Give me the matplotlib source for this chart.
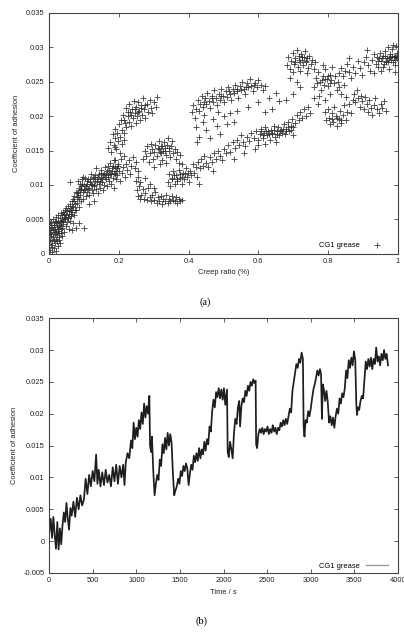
import numpy as np
import matplotlib
matplotlib.use("Agg")
import matplotlib.pyplot as plt
from matplotlib.lines import Line2D

plt.rcParams['font.family'] = ['Liberation Sans', 'DejaVu Sans']

# ---------------- (a) scatter: creep ratio vs coefficient of adhesion (coef in 1e-3 units) -------------
origin_cr = [0.002,0.003,0.004,0.005,0.006,0.007,0.008,0.009,0.010,0.011,
             0.012,0.013,0.014,0.015,0.016,0.017,0.018,0.019,0.020,0.021,
             0.022,0.023,0.024,0.025,0.026,0.027,0.028,0.029,0.030,0.031,
             0.032,0.033,0.034,0.035,0.036,0.037,0.038,0.040,0.041,0.042,
             0.044,0.045,0.046,0.048,0.049,0.050,0.052,0.053,0.054,0.056,
             0.057,0.058,0.060,0.061,0.062,0.064,0.065,0.066,0.068,0.069,
             0.070,0.072,0.073,0.074,0.076,0.077,0.078,0.080,0.081,0.082,
             0.084,0.085,0.086,0.088,0.089,0.090,0.092,0.093,0.094,0.096,
             0.097,0.098,0.100,0.101,0.085,0.065]
origin_coef = [0.5,2.0,3.5,1.2,4.6,2.8,0.3,3.9,1.8,5.0,
               2.4,4.2,0.8,3.1,4.8,1.5,3.6,2.2,5.3,0.4,
               3.9,2.7,4.4,1.1,3.3,5.6,2.0,4.0,3.0,5.2,
               1.6,4.6,3.6,5.9,2.6,4.9,3.8,6.0,4.3,5.4,
               3.2,6.3,5.0,4.1,6.6,5.6,4.6,7.0,5.2,6.2,
               3.6,5.8,7.2,4.8,6.4,5.5,7.6,6.0,4.4,8.0,
               6.8,5.6,8.4,7.2,3.8,9.0,6.4,8.8,7.4,10.6,
               8.2,9.6,6.8,9.2,10.2,8.6,9.8,7.6,10.8,9.0,
               11.2,8.0,10.0,3.7,4.4,3.4]
origin2_cr = [0.001,0.002,0.003,0.005,0.007,0.009,0.011,0.013,0.015,0.017,
              0.019,0.021,0.023,0.025,0.027,0.029,0.031,0.033,0.035,0.037,
              0.039,0.043,0.047,0.051,0.055,0.059,0.063,0.067,0.071,0.075,
              0.079,0.083,0.087,0.091,0.095,0.099]
origin2_coef = [1.4,3.0,4.4,2.6,3.8,1.0,3.4,2.0,4.2,2.8,
                4.6,3.2,1.8,4.8,3.6,2.4,4.2,3.0,4.6,5.6,
                4.8,5.8,5.2,6.2,5.4,6.6,5.8,7.0,7.6,6.4,
                8.2,9.0,8.0,9.4,10.2,9.2]

lowband_cr = [0.102,0.104,0.106,0.108,0.110,0.112,0.114,0.116,0.118,0.120,
              0.122,0.124,0.126,0.128,0.130,0.132,0.134,0.136,0.138,0.140,
              0.142,0.144,0.146,0.148,0.150,0.152,0.154,0.156,0.158,0.160,
              0.162,0.164,0.166,0.168,0.170,0.172,0.174,0.176,0.178,0.180,
              0.182,0.184,0.186,0.188,0.190,0.192,0.194,0.196,0.198,0.200,
              0.203,0.206,0.209,0.212,0.215,0.218,0.221,0.224,0.228,0.232,
              0.236,0.240,0.245,0.250,0.255,0.130,0.115,0.190,0.215,0.060]
lowband_coef = [9.4,11.0,8.4,10.2,9.0,10.8,9.6,8.6,10.4,11.6,
                9.2,10.0,8.8,11.2,9.8,10.6,12.4,9.4,10.8,8.8,
                11.6,10.2,9.6,11.0,12.2,10.4,9.2,11.4,10.0,12.6,
                10.8,11.8,9.8,11.2,12.8,10.6,11.6,13.2,10.2,12.0,
                11.0,12.8,9.6,11.6,13.6,10.8,12.4,11.4,13.0,12.0,
                10.6,13.8,11.8,12.6,14.2,11.2,13.0,12.2,13.6,11.6,
                12.8,14.0,12.4,13.4,12.0,7.6,7.2,15.5,16.6,10.4]
lowband2_cr = [0.105,0.109,0.113,0.117,0.121,0.125,0.129,0.133,0.137,0.141,
               0.145,0.149,0.153,0.157,0.161,0.165,0.169,0.173,0.177,0.181,
               0.185,0.189,0.193,0.197]
lowband2_coef = [9.8,10.6,9.4,10.8,10.2,11.0,10.0,11.4,10.4,11.2,
                 10.6,11.8,10.8,11.6,11.2,12.0,11.4,12.2,11.6,12.4,
                 11.8,12.6,12.0,12.8]

upper1_cr = [0.170,0.175,0.178,0.182,0.185,0.188,0.190,0.193,0.196,0.198,
             0.200,0.203,0.205,0.208,0.210,0.212,0.215,0.218,0.220,0.222,
             0.225,0.228,0.230,0.232,0.235,0.238,0.240,0.243,0.245,0.248,
             0.250,0.253,0.255,0.258,0.260,0.263,0.266,0.270,0.273,0.276,
             0.280,0.284,0.288,0.292,0.296,0.300,0.306,0.310,0.202,0.186,
             0.226,0.236,0.246,0.256,0.264,0.274,0.214]
upper1_coef = [15.4,16.2,14.8,17.4,15.8,16.8,18.2,15.2,17.6,16.4,
               18.8,17.0,19.4,16.0,18.0,20.2,17.6,19.0,21.2,18.4,
               20.0,21.8,19.2,20.6,18.6,21.0,19.8,22.2,20.4,19.0,
               21.4,20.0,22.0,20.8,19.4,21.6,20.2,22.6,21.0,19.8,
               21.8,20.6,22.4,21.2,20.4,22.0,21.4,22.8,14.6,13.6,
               20.6,20.2,21.0,20.6,21.2,21.6,19.4]

blob_cr = [0.270,0.274,0.278,0.282,0.286,0.290,0.293,0.296,0.299,0.302,
           0.305,0.308,0.311,0.314,0.317,0.320,0.323,0.326,0.329,0.332,
           0.335,0.338,0.341,0.344,0.347,0.350,0.353,0.356,0.360,0.364,
           0.368,0.372,0.376,0.380,0.318,0.300,0.336,0.315,0.325,0.333,
           0.343,0.322]
blob_coef = [13.8,15.0,14.2,15.6,13.4,14.6,16.0,15.2,13.8,14.8,
             15.8,14.2,15.4,16.4,14.8,15.6,13.6,15.0,16.2,15.4,
             14.4,15.8,16.8,15.0,14.0,15.6,16.4,14.6,15.2,13.8,
             14.8,13.2,14.4,13.0,13.0,12.6,13.2,15.2,15.6,15.0,
             15.4,14.6]

loop_cr = [0.250,0.252,0.254,0.256,0.258,0.260,0.262,0.265,0.268,0.272,
           0.276,0.280,0.284,0.288,0.292,0.296,0.300,0.304,0.308,0.312,
           0.316,0.320,0.324,0.328,0.332,0.336,0.340,0.344,0.348,0.352,
           0.356,0.360,0.364,0.368,0.372,0.376,0.380,0.290,0.300,0.275]
loop_coef = [10.6,9.2,11.2,8.4,9.8,8.0,10.4,8.6,9.4,8.0,
             8.8,7.8,9.6,8.2,7.6,8.6,7.8,9.0,7.4,8.2,
             7.6,8.4,7.2,8.0,7.6,8.6,7.4,8.0,7.6,8.4,
             7.8,7.6,8.2,7.4,8.0,7.6,7.8,10.2,9.6,11.0]

midband_cr = [0.340,0.344,0.348,0.352,0.356,0.360,0.364,0.368,0.372,0.376,
              0.380,0.384,0.388,0.392,0.396,0.400,0.404,0.408,0.412,0.416,
              0.420,0.424,0.428,0.432,0.436,0.440,0.445,0.450,0.455,0.460,
              0.466,0.472,0.478,0.484,0.490,0.496,0.502,0.508,0.514,0.520,
              0.526,0.532,0.538,0.544,0.550,0.556,0.562,0.568,0.574,0.580,
              0.586,0.592,0.598,0.604,0.608,0.612,0.616,0.620,0.624,0.628,
              0.632,0.636,0.640,0.644,0.648,0.652,0.656,0.660,0.664,0.668,
              0.672,0.676,0.680,0.684,0.688,0.692,0.696,0.700,0.705,0.710,
              0.715,0.720,0.725,0.730,0.736,0.742,0.748,0.600,0.590,0.620,
              0.530,0.560,0.470,0.430,0.650,0.700]
midband_coef = [10.4,11.6,9.8,11.0,12.0,10.2,11.4,10.6,12.2,11.0,
                10.2,11.8,10.8,12.4,11.2,10.4,12.0,11.4,13.0,11.8,
                12.6,11.2,13.4,12.4,13.8,12.8,14.2,13.2,12.6,14.0,
                13.4,14.6,13.8,15.0,14.2,13.6,15.2,14.6,15.8,14.8,
                16.2,15.4,16.6,15.8,17.2,16.2,15.6,17.0,16.4,17.6,
                16.8,17.8,16.6,17.4,18.2,16.8,17.6,18.4,17.2,17.8,
                16.6,18.0,17.4,18.6,17.0,17.8,18.4,17.2,18.0,17.6,
                18.8,17.4,18.2,19.2,17.8,18.6,19.6,18.4,19.0,20.2,
                19.4,20.6,19.8,21.0,20.0,21.4,20.4,15.8,15.2,16.0,
                13.8,14.6,12.0,10.2,16.2,17.2]
midband2_cr = [0.352,0.358,0.366,0.374,0.382,0.390,0.398,0.606,0.614,0.622,
               0.630,0.638,0.646,0.654,0.662,0.670,0.678,0.686,0.694]
midband2_coef = [10.8,11.4,10.8,11.6,11.2,11.6,11.8,17.8,17.2,17.8,
                 17.4,17.6,18.0,17.4,17.8,18.2,17.8,18.4,18.0]

upper2_cr = [0.410,0.414,0.418,0.422,0.426,0.430,0.434,0.438,0.442,0.446,
             0.450,0.454,0.458,0.462,0.466,0.470,0.474,0.478,0.482,0.486,
             0.490,0.494,0.498,0.502,0.506,0.510,0.514,0.518,0.522,0.526,
             0.530,0.534,0.538,0.542,0.546,0.550,0.554,0.558,0.562,0.566,
             0.570,0.575,0.580,0.585,0.590,0.595,0.600,0.606,0.612,0.618,
             0.420,0.430,0.440,0.450,0.460,0.470,0.480,0.490,0.500,0.510,
             0.520,0.530,0.425,0.445,0.485,0.540,0.570,0.600,0.630,0.640,
             0.650,0.660,0.620,0.444,0.468,0.492,0.516,0.540,0.564,0.588]
upper2_coef = [20.6,21.6,19.8,21.0,22.4,20.8,21.8,23.0,21.4,22.6,
               21.8,23.4,22.2,21.2,23.0,22.0,23.8,22.6,21.6,23.2,
               22.4,24.0,23.0,22.0,23.6,22.8,24.2,23.2,22.4,24.0,
               23.4,24.6,23.6,22.6,24.4,23.8,25.0,24.0,23.2,24.8,
               24.2,25.4,24.4,23.6,24.8,24.2,25.2,24.6,23.8,24.4,
               18.4,17.0,19.2,18.0,16.8,19.6,18.6,17.4,20.0,18.8,
               20.4,19.2,16.2,20.2,20.6,20.8,21.4,22.0,22.6,21.0,
               23.4,22.2,20.6,22.0,22.6,23.0,23.6,24.0,24.2,24.6]

peak1_cr = [0.682,0.686,0.690,0.694,0.698,0.702,0.706,0.710,0.713,0.716,
            0.719,0.722,0.725,0.728,0.731,0.734,0.737,0.740,0.743,0.746,
            0.750,0.754,0.758,0.762,0.700,0.720,0.740,0.690,0.710,0.720,
            0.700,0.680,0.715,0.725,0.735,0.705]
peak1_coef = [27.4,28.6,26.8,28.0,29.2,27.6,28.4,29.6,27.2,28.8,
              27.8,29.0,28.2,27.4,28.6,29.4,27.8,28.4,27.0,28.8,
              27.6,28.2,26.8,27.8,26.4,26.6,26.2,25.6,25.0,24.2,
              23.2,22.4,28.2,28.6,28.0,27.8]

peak2_cr = [0.760,0.764,0.768,0.772,0.776,0.780,0.784,0.788,0.792,0.796,
            0.800,0.804,0.808,0.812,0.816,0.820,0.824,0.828,0.832,0.838,
            0.845,0.852,0.775,0.790,0.805,0.785,0.770,0.760,0.790,0.798,
            0.806,0.782]
peak2_coef = [24.2,25.6,24.8,26.4,25.0,23.8,25.8,24.6,26.8,25.4,
              24.4,26.0,25.2,27.2,24.8,25.8,23.8,25.0,24.2,23.2,
              24.6,22.8,23.0,22.4,23.2,27.4,21.8,22.6,25.4,25.8,
              24.8,25.2]

dip1_cr = [0.790,0.794,0.798,0.802,0.806,0.810,0.814,0.818,0.822,0.826,
           0.830,0.834,0.838,0.842,0.846,0.850,0.855,0.860,0.865,0.870,
           0.812,0.824,0.836]
dip1_coef = [20.6,19.4,21.0,19.8,18.8,20.4,19.2,21.4,20.0,18.6,
             19.6,20.8,19.0,20.2,21.6,19.4,20.6,21.8,20.4,22.4,
             19.6,19.8,19.4]

dip2_cr = [0.874,0.878,0.882,0.886,0.890,0.894,0.898,0.902,0.906,0.910,
           0.914,0.918,0.922,0.926,0.930,0.935,0.940,0.945,0.950,0.955,
           0.960,0.965]
dip2_coef = [23.2,22.0,23.8,22.6,21.4,23.0,22.2,21.0,22.8,21.8,
             20.6,22.4,21.2,20.2,21.6,22.6,21.0,20.4,21.8,21.2,
             22.2,20.8]

top_cr = [0.830,0.836,0.842,0.848,0.854,0.860,0.866,0.872,0.878,0.884,
          0.890,0.896,0.902,0.908,0.914,0.920,0.926,0.932,0.936,0.940,
          0.944,0.948,0.952,0.956,0.960,0.964,0.968,0.972,0.976,0.980,
          0.984,0.988,0.992,0.996,0.998,0.970,0.985,0.950,0.975,0.990,
          0.910,0.860,0.930,0.995,0.965,0.958,0.978,0.992,0.942,0.954,
          0.962,0.974,0.982,0.990,0.994,0.966,0.986,0.946]
top_coef = [26.2,27.0,25.8,26.6,27.6,26.4,25.6,27.2,26.2,28.0,
            27.0,26.0,27.8,28.6,27.4,26.6,28.2,29.0,27.6,28.6,
            27.2,29.2,28.0,28.8,27.6,29.4,28.4,27.8,29.0,28.2,
            29.8,28.6,27.4,29.2,28.4,30.0,30.4,26.6,26.8,26.4,
            29.6,28.4,26.2,30.2,28.0,27.2,28.6,28.8,28.0,28.4,
            28.8,28.4,28.8,28.2,28.6,27.8,27.8,28.4]

# ---------------- (b) time series (coef in 1e-3 units) -------------
time_s = [0,20,35,50,65,80,95,110,125,140,155,170,185,200,215,230,245,260,280,300,
          320,340,360,380,400,420,440,460,480,500,520,540,555,570,590,610,630,650,670,690,
          710,730,750,770,790,810,830,850,865,880,900,920,940,955,970,985,1000,1015,1030,1045,
          1060,1075,1090,1105,1120,1135,1150,1158,1170,1180,1195,1210,1225,1240,1255,1270,1285,1300,1315,1330,
          1345,1360,1375,1390,1405,1420,1435,1450,1465,1480,1495,1510,1525,1540,1555,1570,1585,1600,1615,1630,
          1645,1660,1675,1690,1705,1720,1735,1750,1765,1780,1795,1810,1825,1840,1855,1870,1885,1900,1915,1930,
          1945,1960,1975,1990,2005,2020,2040,2048,2060,2075,2090,2105,2120,2135,2150,2165,2180,2190,2205,2220,
          2235,2250,2265,2280,2295,2310,2325,2340,2355,2368,2374,2385,2400,2415,2430,2445,2460,2475,2490,2505,
          2520,2535,2550,2565,2580,2595,2610,2625,2640,2655,2670,2685,2700,2715,2730,2745,2760,2775,2790,2805,
          2820,2835,2850,2865,2880,2895,2910,2918,2928,2940,2955,2970,2985,3000,3015,3030,3045,3060,3075,3090,
          3105,3118,3128,3138,3150,3165,3180,3195,3210,3225,3240,3255,3270,3285,3300,3315,3330,3345,3360,3375,
          3390,3405,3420,3435,3450,3465,3480,3495,3510,3522,3530,3540,3555,3570,3585,3600,3615,3630,3645,3660,
          3675,3690,3705,3720,3735,3750,3765,3780,3795,3810,3825,3840,3855,3870,3885]
adhesion_b = [1.0,3.5,0.5,3.8,1.0,-1.2,3.0,-1.3,2.0,-0.5,2.5,4.5,3.0,6.0,3.5,1.8,5.2,4.0,6.2,3.8,
              6.8,5.0,7.2,5.6,6.5,9.8,7.4,10.4,8.6,11.0,9.4,13.6,9.0,11.2,8.6,10.8,8.8,11.2,9.2,10.4,
              8.6,11.6,9.4,12.0,9.0,11.8,10.0,12.0,8.8,12.4,13.8,13.0,15.8,14.6,18.6,16.0,17.8,16.4,19.0,17.6,
              20.2,18.4,21.6,19.4,21.2,20.0,22.8,15.0,14.0,16.4,11.0,7.2,9.0,10.4,9.6,12.8,11.8,15.2,13.8,16.2,
              14.4,17.0,15.0,16.8,15.4,10.6,7.2,8.0,8.6,9.8,9.0,11.0,10.2,11.8,11.0,12.2,11.4,8.8,10.6,12.0,
              11.2,13.4,12.4,13.8,12.6,14.6,13.0,14.4,13.6,15.6,14.2,16.0,15.2,18.0,17.2,20.4,22.2,21.0,23.4,22.6,
              24.0,22.4,23.8,22.2,24.0,21.4,23.8,14.0,13.2,15.6,14.4,13.0,17.0,19.2,18.4,21.0,22.0,18.0,21.2,22.4,
              21.8,23.6,22.8,24.4,23.6,25.0,24.4,25.4,24.8,25.2,15.2,14.6,16.8,17.6,17.0,17.8,16.8,17.6,17.2,18.0,
              16.8,17.6,17.0,18.2,17.2,17.8,16.8,17.8,17.4,18.6,18.0,19.0,18.2,19.2,18.4,19.6,20.8,20.2,23.6,25.0,
              26.4,27.8,27.2,28.6,28.0,29.6,28.6,18.0,16.4,19.0,18.6,20.4,19.6,20.8,22.4,23.8,24.6,25.6,26.8,26.0,
              27.0,26.2,19.2,24.6,23.8,22.0,23.6,21.8,18.6,19.6,18.2,19.4,17.8,19.6,20.8,20.0,22.4,21.6,23.2,22.6,
              24.0,26.8,25.6,28.4,27.2,28.8,27.6,29.8,28.4,21.6,19.8,21.0,20.6,22.0,22.8,22.4,25.2,28.2,27.0,28.6,
              27.4,28.8,27.0,28.6,27.8,30.4,28.2,29.0,27.6,29.4,28.4,30.0,28.6,29.4,27.6]

scatter_groups = [
    (origin_cr, origin_coef), (origin2_cr, origin2_coef),
    (lowband_cr, lowband_coef), (lowband2_cr, lowband2_coef),
    (upper1_cr, upper1_coef), (blob_cr, blob_coef), (loop_cr, loop_coef),
    (midband_cr, midband_coef), (midband2_cr, midband2_coef),
    (upper2_cr, upper2_coef), (peak1_cr, peak1_coef), (peak2_cr, peak2_coef),
    (dip1_cr, dip1_coef), (dip2_cr, dip2_coef), (top_cr, top_coef),
]
cr_all = np.concatenate([np.asarray(g[0], float) for g in scatter_groups])
coef_all = np.concatenate([np.asarray(g[1], float) for g in scatter_groups]) / 1000.0

t_arr = np.asarray(time_s, float)
b_arr = np.asarray(adhesion_b, float) / 1000.0

fig = plt.figure(figsize=(4.04, 6.36), dpi=100)
FS = 5.4
SPINE = '#444444'

def style(ax):
    for s in ax.spines.values():
        s.set_color(SPINE)
        s.set_linewidth(0.8)
    ax.tick_params(direction='in', top=True, right=True, length=2.6, width=0.6,
                   color=SPINE, labelsize=FS, pad=3.2, labelcolor='#222222')

# (a)
ax1 = fig.add_axes([0.1213, 0.6011, 0.8639, 0.3785])
ax1.plot(cr_all, coef_all, linestyle='none', marker='+', markersize=4.0,
         markeredgewidth=0.6, color='#2a2a2a', alpha=0.9, label='CG1 grease')
ax1.set_xlim(0, 1)
ax1.set_ylim(0, 0.035)
ax1.set_xticks([0, 0.2, 0.4, 0.6, 0.8, 1])
ax1.set_xticklabels(['0', '0.2', '0.4', '0.6', '0.8', '1'])
ax1.set_yticks([0, 0.005, 0.01, 0.015, 0.02, 0.025, 0.03, 0.035])
ax1.set_yticklabels(['0', '0.005', '0.01', '0.015', '0.02', '0.025', '0.03', '0.035'])
style(ax1)
ax1.set_xlabel('Creep ratio (%)', fontsize=FS, labelpad=3, color='#222222')
ax1.set_ylabel('Coefficient of adhesion', fontsize=FS, labelpad=4, color='#222222')
ax1.legend(loc='lower right', bbox_to_anchor=(0.970, 0.005), frameon=False, markerfirst=False,
           fontsize=FS, handlelength=2.0, borderaxespad=0.0, handletextpad=1.25)

# (b)
ax2 = fig.add_axes([0.1213, 0.0991, 0.8639, 0.4006])
ax2.plot(t_arr, b_arr, color='#1e1e1e', linewidth=1.25)
ax2.set_xlim(0, 4000)
ax2.set_ylim(-0.005, 0.035)
ax2.set_xticks(np.arange(0, 4001, 500))
ax2.set_yticks([-0.005, 0, 0.005, 0.01, 0.015, 0.02, 0.025, 0.03, 0.035])
ax2.set_yticklabels(['-0.005', '0', '0.005', '0.01', '0.015', '0.02', '0.025', '0.03', '0.035'])
style(ax2)
ax2.set_xlabel('Time / s', fontsize=FS, labelpad=3, color='#222222')
ax2.set_ylabel('Coefficient of adhesion', fontsize=FS, labelpad=4, color='#222222')
proxy = Line2D([], [], color='#9a9a9a', linewidth=1.0)
ax2.legend([proxy], ['CG1 grease'], loc='lower right', bbox_to_anchor=(0.980, 0.0),
           frameon=False, markerfirst=False, fontsize=FS, handlelength=3.0,
           borderaxespad=0.0, handletextpad=0.7)

fig.text(0.507, 0.525, '(a)', ha='center', va='center', fontsize=7.5, family='Liberation Serif')
fig.text(0.5, 0.024, '(b)', ha='center', va='center', fontsize=7.5, family='Liberation Serif')

fig.savefig('out.png', dpi=100)
